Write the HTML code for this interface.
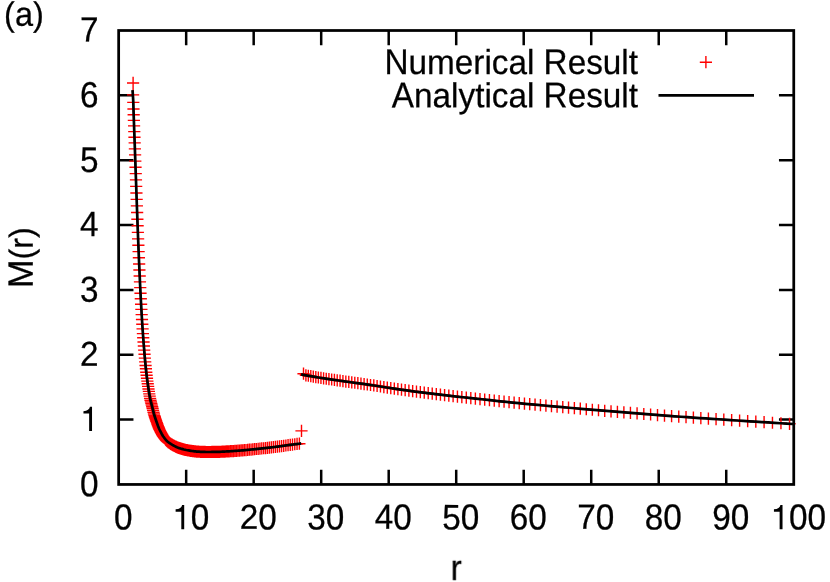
<!DOCTYPE html>
<html><head><meta charset="utf-8"><title>plot</title>
<style>
html,body{margin:0;padding:0;background:#fff;}
body{width:830px;height:582px;overflow:hidden;}
svg{display:block;}
text{font-family:"Liberation Sans",sans-serif;font-size:33.30px;fill:#000;stroke:#000;stroke-width:0.25px;white-space:pre;}
</style></head><body>
<svg width="830" height="582" viewBox="0 0 830 582">
<rect width="830" height="582" fill="#fff"/>
<path d="M186.17 484.45v-14.80M186.17 30.50v14.80M253.68 484.45v-14.80M253.68 30.50v14.80M321.19 484.45v-14.80M321.19 30.50v14.80M388.70 484.45v-14.80M388.70 30.50v14.80M456.21 484.45v-14.80M456.21 30.50v14.80M523.71 484.45v-14.80M523.71 30.50v14.80M591.22 484.45v-14.80M591.22 30.50v14.80M658.73 484.45v-14.80M658.73 30.50v14.80M726.24 484.45v-14.80M726.24 30.50v14.80M118.66 419.60h14.80M793.75 419.60h-14.80M118.66 354.75h14.80M793.75 354.75h-14.80M118.66 289.90h14.80M793.75 289.90h-14.80M118.66 225.05h14.80M793.75 225.05h-14.80M118.66 160.20h14.80M793.75 160.20h-14.80M118.66 95.35h14.80M793.75 95.35h-14.80" stroke="#000" stroke-width="2.50" fill="none"/>
<path d="M297.40 373.70h12.20M303.50 367.60v12.20M299.80 375.29h12.20M305.90 369.19v12.20M302.23 375.75h12.20M308.33 369.65v12.20M304.69 376.20h12.20M310.79 370.10v12.20M307.18 376.65h12.20M313.28 370.55v12.20M309.71 377.08h12.20M315.81 370.98v12.20M312.26 377.51h12.20M318.36 371.41v12.20M314.85 377.93h12.20M320.95 371.83v12.20M317.48 378.33h12.20M323.58 372.23v12.20M320.14 378.73h12.20M326.24 372.63v12.20M322.83 379.12h12.20M328.93 373.02v12.20M325.56 379.52h12.20M331.66 373.42v12.20M328.32 379.92h12.20M334.42 373.82v12.20M331.12 380.32h12.20M337.22 374.22v12.20M333.96 380.72h12.20M340.06 374.62v12.20M336.83 381.13h12.20M342.93 375.03v12.20M339.74 381.53h12.20M345.84 375.43v12.20M342.69 381.94h12.20M348.79 375.84v12.20M345.67 382.34h12.20M351.77 376.24v12.20M348.70 382.76h12.20M354.80 376.66v12.20M351.76 383.18h12.20M357.86 377.08v12.20M354.87 383.61h12.20M360.97 377.51v12.20M358.01 384.05h12.20M364.11 377.95v12.20M361.19 384.51h12.20M367.29 378.41v12.20M364.42 384.98h12.20M370.52 378.88v12.20M367.69 385.47h12.20M373.79 379.37v12.20M371.00 385.98h12.20M377.10 379.88v12.20M374.35 386.51h12.20M380.45 380.41v12.20M377.75 387.05h12.20M383.85 380.95v12.20M381.19 387.59h12.20M387.29 381.49v12.20M384.67 388.14h12.20M390.77 382.04v12.20M388.20 388.67h12.20M394.30 382.57v12.20M391.78 389.20h12.20M397.88 383.10v12.20M395.40 389.71h12.20M401.50 383.61v12.20M399.07 390.22h12.20M405.17 384.12v12.20M402.79 390.72h12.20M408.89 384.62v12.20M406.56 391.22h12.20M412.66 385.12v12.20M410.37 391.72h12.20M416.47 385.62v12.20M414.23 392.22h12.20M420.33 386.12v12.20M418.15 392.72h12.20M424.25 386.62v12.20M422.11 393.22h12.20M428.21 387.12v12.20M426.13 393.71h12.20M432.23 387.61v12.20M430.20 394.20h12.20M436.30 388.10v12.20M434.32 394.69h12.20M440.42 388.59v12.20M438.49 395.18h12.20M444.59 389.08v12.20M442.72 395.66h12.20M448.82 389.56v12.20M447.01 396.14h12.20M453.11 390.04v12.20M451.34 396.62h12.20M457.44 390.52v12.20M455.74 397.10h12.20M461.84 391.00v12.20M460.19 397.58h12.20M466.29 391.48v12.20M464.70 398.07h12.20M470.80 391.97v12.20M469.27 398.56h12.20M475.37 392.46v12.20M473.90 399.07h12.20M480.00 392.97v12.20M478.59 399.59h12.20M484.69 393.49v12.20M483.34 400.11h12.20M489.44 394.01v12.20M488.15 400.63h12.20M494.25 394.53v12.20M493.02 401.16h12.20M499.12 395.06v12.20M497.96 401.68h12.20M504.06 395.58v12.20M502.96 402.20h12.20M509.06 396.10v12.20M508.02 402.71h12.20M514.12 396.61v12.20M513.15 403.22h12.20M519.25 397.12v12.20M518.35 403.72h12.20M524.45 397.62v12.20M523.62 404.22h12.20M529.72 398.12v12.20M528.95 404.72h12.20M535.05 398.62v12.20M534.35 405.21h12.20M540.45 399.11v12.20M539.82 405.71h12.20M545.92 399.61v12.20M545.37 406.21h12.20M551.47 400.11v12.20M550.98 406.71h12.20M557.08 400.61v12.20M556.67 407.20h12.20M562.77 401.10v12.20M562.43 407.71h12.20M568.53 401.61v12.20M568.27 408.21h12.20M574.37 402.11v12.20M574.18 408.72h12.20M580.28 402.62v12.20M580.17 409.23h12.20M586.27 403.13v12.20M586.24 409.75h12.20M592.34 403.65v12.20M592.39 410.27h12.20M598.49 404.17v12.20M598.61 410.79h12.20M604.71 404.69v12.20M604.92 411.32h12.20M611.02 405.22v12.20M611.31 411.85h12.20M617.41 405.75v12.20M617.78 412.38h12.20M623.88 406.28v12.20M624.33 412.92h12.20M630.43 406.82v12.20M630.97 413.45h12.20M637.07 407.35v12.20M637.70 413.98h12.20M643.80 407.88v12.20M644.51 414.51h12.20M650.61 408.41v12.20M651.41 415.04h12.20M657.51 408.94v12.20M658.40 415.56h12.20M664.50 409.46v12.20M665.49 416.08h12.20M671.59 409.98v12.20M672.66 416.59h12.20M678.76 410.49v12.20M679.93 417.10h12.20M686.03 411.00v12.20M687.29 417.61h12.20M693.39 411.51v12.20M694.74 418.11h12.20M700.84 412.01v12.20M702.30 418.62h12.20M708.40 412.52v12.20M709.95 419.13h12.20M716.05 413.03v12.20M717.70 419.63h12.20M723.80 413.53v12.20M725.55 420.15h12.20M731.65 414.05v12.20M733.51 420.66h12.20M739.61 414.56v12.20M741.56 421.18h12.20M747.66 415.08v12.20M749.72 421.70h12.20M755.82 415.60v12.20M757.99 422.22h12.20M764.09 416.12v12.20M766.36 422.75h12.20M772.46 416.65v12.20M774.85 423.27h12.20M780.95 417.17v12.20M783.44 423.79h12.20M789.54 417.69v12.20M144.39 400.21h12.20M150.49 394.11v12.20M144.81 401.91h12.20M150.91 395.81v12.20M145.23 403.51h12.20M151.33 397.41v12.20M145.65 405.11h12.20M151.75 399.01v12.20M146.09 406.77h12.20M152.19 400.67v12.20M146.52 408.54h12.20M152.62 402.44v12.20M146.97 410.41h12.20M153.07 404.31v12.20M147.42 412.25h12.20M153.52 406.15v12.20M147.87 414.02h12.20M153.97 407.92v12.20M148.33 415.58h12.20M154.43 409.48v12.20M148.80 417.06h12.20M154.90 410.96v12.20M149.27 418.48h12.20M155.37 412.38v12.20M149.75 419.85h12.20M155.85 413.75v12.20M150.23 421.23h12.20M156.33 415.13v12.20M150.73 422.63h12.20M156.83 416.53v12.20M151.22 424.04h12.20M157.32 417.94v12.20M151.73 425.43h12.20M157.83 419.33v12.20M152.24 426.78h12.20M158.34 420.68v12.20M152.76 428.06h12.20M158.86 421.96v12.20M153.28 429.27h12.20M159.38 423.17v12.20M153.81 430.40h12.20M159.91 424.30v12.20M154.35 431.50h12.20M160.45 425.40v12.20M154.89 432.52h12.20M160.99 426.42v12.20M155.45 433.55h12.20M161.55 427.45v12.20M156.01 434.52h12.20M162.11 428.42v12.20M156.57 435.48h12.20M162.67 429.38v12.20M157.15 436.40h12.20M163.25 430.30v12.20M157.73 437.21h12.20M163.83 431.11v12.20M158.32 438.00h12.20M164.42 431.90v12.20M158.91 438.77h12.20M165.01 432.67v12.20M159.52 439.53h12.20M165.62 433.43v12.20M160.13 440.26h12.20M166.23 434.16v12.20M160.75 440.93h12.20M166.85 434.83v12.20M161.38 441.51h12.20M167.48 435.41v12.20M162.02 442.04h12.20M168.12 435.94v12.20M162.66 442.52h12.20M168.76 436.42v12.20M163.32 442.97h12.20M169.42 436.87v12.20M163.98 443.42h12.20M170.08 437.32v12.20M164.65 443.85h12.20M170.75 437.75v12.20M165.33 444.28h12.20M171.43 438.18v12.20M166.02 444.69h12.20M172.12 438.59v12.20M166.71 445.09h12.20M172.81 438.99v12.20M167.42 445.49h12.20M173.52 439.39v12.20M168.14 445.86h12.20M174.24 439.76v12.20M168.86 446.23h12.20M174.96 440.13v12.20M169.59 446.59h12.20M175.69 440.49v12.20M170.34 446.94h12.20M176.44 440.84v12.20M171.09 447.28h12.20M177.19 441.18v12.20M171.86 447.60h12.20M177.96 441.50v12.20M172.63 447.89h12.20M178.73 441.79v12.20M173.41 448.17h12.20M179.51 442.07v12.20M174.21 448.42h12.20M180.31 442.32v12.20M175.01 448.67h12.20M181.11 442.57v12.20M175.82 448.91h12.20M181.92 442.81v12.20M176.65 449.14h12.20M182.75 443.04v12.20M177.49 449.36h12.20M183.59 443.26v12.20M178.33 449.58h12.20M184.43 443.48v12.20M179.19 449.78h12.20M185.29 443.68v12.20M180.06 449.98h12.20M186.16 443.88v12.20M180.94 450.16h12.20M187.04 444.06v12.20M181.83 450.33h12.20M187.93 444.23v12.20M182.74 450.49h12.20M188.84 444.39v12.20M183.65 450.64h12.20M189.75 444.54v12.20M184.58 450.79h12.20M190.68 444.69v12.20M185.52 450.93h12.20M191.62 444.83v12.20M186.47 451.08h12.20M192.57 444.98v12.20M187.43 451.21h12.20M193.53 445.11v12.20M188.41 451.34h12.20M194.51 445.24v12.20M189.40 451.45h12.20M195.50 445.35v12.20M190.40 451.55h12.20M196.50 445.45v12.20M191.42 451.63h12.20M197.52 445.53v12.20M192.45 451.69h12.20M198.55 445.59v12.20M193.49 451.75h12.20M199.59 445.65v12.20M194.54 451.80h12.20M200.64 445.70v12.20M195.61 451.84h12.20M201.71 445.74v12.20M196.70 451.89h12.20M202.80 445.79v12.20M197.79 451.93h12.20M203.89 445.83v12.20M198.90 451.96h12.20M205.00 445.86v12.20M200.03 451.98h12.20M206.13 445.88v12.20M201.17 452.00h12.20M207.27 445.90v12.20M202.33 452.00h12.20M208.43 445.90v12.20M203.50 452.00h12.20M209.60 445.90v12.20M204.68 451.98h12.20M210.78 445.88v12.20M205.89 451.97h12.20M211.99 445.87v12.20M207.10 451.95h12.20M213.20 445.85v12.20M208.34 451.93h12.20M214.44 445.83v12.20M209.59 451.90h12.20M215.69 445.80v12.20M210.85 451.87h12.20M216.95 445.77v12.20M212.13 451.84h12.20M218.23 445.74v12.20M213.43 451.80h12.20M219.53 445.70v12.20M214.75 451.75h12.20M220.85 445.65v12.20M216.08 451.69h12.20M222.18 445.59v12.20M217.43 451.62h12.20M223.53 445.52v12.20M218.80 451.54h12.20M224.90 445.44v12.20M220.18 451.47h12.20M226.28 445.37v12.20M221.59 451.39h12.20M227.69 445.29v12.20M223.01 451.31h12.20M229.11 445.21v12.20M224.45 451.22h12.20M230.55 445.12v12.20M225.91 451.13h12.20M232.01 445.03v12.20M227.39 451.03h12.20M233.49 444.93v12.20M228.89 450.92h12.20M234.99 444.82v12.20M230.40 450.81h12.20M236.50 444.71v12.20M231.94 450.70h12.20M238.04 444.60v12.20M233.50 450.58h12.20M239.60 444.48v12.20M235.08 450.46h12.20M241.18 444.36v12.20M236.67 450.32h12.20M242.77 444.22v12.20M238.29 450.18h12.20M244.39 444.08v12.20M239.93 450.03h12.20M246.03 443.93v12.20M241.59 449.87h12.20M247.69 443.77v12.20M243.28 449.71h12.20M249.38 443.61v12.20M244.98 449.55h12.20M251.08 443.45v12.20M246.71 449.38h12.20M252.81 443.28v12.20M248.46 449.20h12.20M254.56 443.10v12.20M250.23 449.02h12.20M256.33 442.92v12.20M252.03 448.84h12.20M258.13 442.74v12.20M253.85 448.65h12.20M259.95 442.55v12.20M255.69 448.45h12.20M261.79 442.35v12.20M257.56 448.25h12.20M263.66 442.15v12.20M259.45 448.04h12.20M265.55 441.94v12.20M261.36 447.82h12.20M267.46 441.72v12.20M263.30 447.60h12.20M269.40 441.50v12.20M265.27 447.37h12.20M271.37 441.27v12.20M267.26 447.13h12.20M273.36 441.03v12.20M269.28 446.88h12.20M275.38 440.78v12.20M271.32 446.63h12.20M277.42 440.53v12.20M273.39 446.37h12.20M279.49 440.27v12.20M275.49 446.09h12.20M281.59 439.99v12.20M277.62 445.79h12.20M283.72 439.69v12.20M279.77 445.48h12.20M285.87 439.38v12.20M281.95 445.17h12.20M288.05 439.07v12.20M284.16 444.87h12.20M290.26 438.77v12.20M286.40 444.57h12.20M292.50 438.47v12.20M288.67 444.27h12.20M294.77 438.17v12.20M290.96 443.97h12.20M297.06 437.87v12.20M293.29 443.68h12.20M299.39 437.58v12.20M127.00 94.90h12.20M133.10 88.80v12.20M127.19 102.40h12.20M133.29 96.30v12.20M127.38 109.00h12.20M133.48 102.90v12.20M127.57 114.80h12.20M133.67 108.70v12.20M127.77 120.40h12.20M133.87 114.30v12.20M127.97 125.90h12.20M134.07 119.80v12.20M128.17 131.60h12.20M134.27 125.50v12.20M128.37 137.20h12.20M134.47 131.10v12.20M128.58 142.90h12.20M134.68 136.80v12.20M128.79 148.90h12.20M134.89 142.80v12.20M129.00 154.90h12.20M135.10 148.80v12.20M129.21 161.10h12.20M135.31 155.00v12.20M129.43 167.30h12.20M135.53 161.20v12.20M129.65 173.60h12.20M135.75 167.50v12.20M129.87 179.90h12.20M135.97 173.80v12.20M130.10 186.40h12.20M136.20 180.30v12.20M130.33 193.00h12.20M136.43 186.90v12.20M130.56 199.40h12.20M136.66 193.30v12.20M130.79 205.90h12.20M136.89 199.80v12.20M131.03 212.50h12.20M137.13 206.40v12.20M131.27 219.20h12.20M137.37 213.10v12.20M131.52 225.80h12.20M137.62 219.70v12.20M131.76 232.40h12.20M137.86 226.30v12.20M132.01 238.90h12.20M138.11 232.80v12.20M132.27 245.30h12.20M138.37 239.20v12.20M132.52 251.60h12.20M138.62 245.50v12.20M132.79 257.80h12.20M138.89 251.70v12.20M133.05 264.00h12.20M139.15 257.90v12.20M133.32 270.00h12.20M139.42 263.90v12.20M133.59 276.00h12.20M139.69 269.90v12.20M133.86 281.90h12.20M139.96 275.80v12.20M134.14 287.60h12.20M140.24 281.50v12.20M134.42 293.30h12.20M140.52 287.20v12.20M134.71 298.80h12.20M140.81 292.70v12.20M134.99 304.20h12.20M141.09 298.10v12.20M135.29 309.40h12.20M141.39 303.30v12.20M135.58 314.60h12.20M141.68 308.50v12.20M135.88 319.50h12.20M141.98 313.40v12.20M136.19 324.30h12.20M142.29 318.20v12.20M136.50 328.90h12.20M142.60 322.80v12.20M136.81 333.60h12.20M142.91 327.50v12.20M137.12 337.80h12.20M143.22 331.70v12.20M137.45 342.00h12.20M143.55 335.90v12.20M137.77 346.00h12.20M143.87 339.90v12.20M138.10 350.10h12.20M144.20 344.00v12.20M138.43 354.30h12.20M144.53 348.20v12.20M138.77 358.10h12.20M144.87 352.00v12.20M139.11 361.90h12.20M145.21 355.80v12.20M139.46 365.50h12.20M145.56 359.40v12.20M139.81 368.80h12.20M145.91 362.70v12.20M140.16 372.20h12.20M146.26 366.10v12.20M140.52 375.20h12.20M146.62 369.10v12.20M140.89 378.20h12.20M146.99 372.10v12.20M141.26 381.10h12.20M147.36 375.00v12.20M141.63 383.70h12.20M147.73 377.60v12.20M142.01 386.40h12.20M148.11 380.30v12.20M142.40 389.00h12.20M148.50 382.90v12.20M142.78 391.40h12.20M148.88 385.30v12.20M143.18 393.90h12.20M149.28 387.80v12.20M143.58 396.10h12.20M149.68 390.00v12.20M143.98 398.40h12.20M150.08 392.30v12.20M127.00 82.95h12.20M133.10 76.85v12.20M295.40 430.90h12.20M301.50 424.80v12.20M699.80 62.20h12.20M705.90 56.10v12.20" stroke="#f00" stroke-width="1.4" fill="none"/>
<rect x="118.66" y="30.50" width="675.09" height="453.95" fill="none" stroke="#000" stroke-width="2.75"/>
<path d="M132.50 90.20 L132.71 92.69 L132.89 95.18 L133.05 97.67 L133.19 100.16 L133.30 102.65 L133.38 105.14 L133.44 107.62 L133.51 110.11 L133.60 112.60 L133.68 115.09 L133.77 117.58 L133.86 120.07 L133.95 122.56 L134.04 125.05 L134.12 127.54 L134.21 130.03 L134.30 132.52 L134.39 135.01 L134.48 137.49 L134.57 139.98 L134.66 142.47 L134.75 144.96 L134.84 147.45 L134.92 149.94 L135.01 152.43 L135.10 154.92 L135.18 157.41 L135.27 159.90 L135.36 162.39 L135.44 164.88 L135.53 167.37 L135.62 169.85 L135.71 172.34 L135.79 174.83 L135.88 177.32 L135.97 179.81 L136.06 182.30 L136.14 184.79 L136.23 187.28 L136.31 189.77 L136.40 192.26 L136.49 194.75 L136.58 197.24 L136.67 199.73 L136.76 202.21 L136.85 204.70 L136.94 207.19 L137.03 209.68 L137.12 212.17 L137.21 214.66 L137.30 217.15 L137.39 219.64 L137.48 222.13 L137.57 224.62 L137.67 227.11 L137.76 229.60 L137.85 232.08 L137.95 234.57 L138.04 237.06 L138.14 239.55 L138.24 242.04 L138.34 244.53 L138.44 247.02 L138.54 249.51 L138.64 252.00 L138.75 254.49 L138.85 256.98 L138.96 259.47 L139.06 261.96 L139.17 264.44 L139.28 266.93 L139.39 269.42 L139.50 271.91 L139.61 274.40 L139.73 276.89 L139.84 279.38 L139.96 281.87 L140.08 284.36 L140.20 286.85 L140.32 289.34 L140.45 291.83 L140.57 294.32 L140.70 296.80 L140.83 299.29 L140.96 301.78 L141.10 304.27 L141.24 306.76 L141.38 309.25 L141.52 311.74 L141.66 314.23 L141.81 316.72 L141.97 319.21 L142.12 321.70 L142.28 324.19 L142.45 326.67 L142.61 329.16 L142.78 331.65 L142.95 334.14 L143.14 336.63 L143.32 339.12 L143.51 341.61 L143.71 344.10 L143.92 346.59 L144.12 349.08 L144.31 351.57 L144.51 354.06 L144.73 356.55 L144.95 359.03 L145.18 361.52 L145.41 364.01 L145.66 366.50 L145.93 368.99 L146.19 371.48 L146.47 373.97 L146.78 376.46 L147.08 378.95 L147.40 381.44 L147.76 383.93 L148.11 386.42 L148.48 388.91 L148.88 391.39 L149.28 393.88 L149.73 396.37 L150.18 398.86 L150.76 401.35 L151.42 403.84 L152.08 406.33 L152.69 408.82 L153.28 411.31 L153.91 413.80 L154.64 416.29 L155.47 418.78 L156.35 421.26 L157.22 423.75 L158.12 426.24 L159.13 428.73 L160.30 431.22 L161.63 433.71 L163.10 436.20 L164.26 437.80 L165.42 439.29 L166.58 440.68 L167.74 441.76 L168.90 442.62 L170.06 443.41 L171.22 444.15 L172.38 444.85 L173.54 445.50 L174.71 446.10 L175.87 446.67 L177.03 447.21 L178.19 447.70 L179.35 448.12 L180.51 448.49 L181.67 448.83 L182.83 449.16 L183.99 449.47 L185.15 449.75 L186.31 450.01 L187.47 450.24 L188.63 450.45 L189.79 450.65 L190.95 450.83 L192.11 451.01 L193.27 451.18 L194.43 451.33 L195.59 451.46 L196.75 451.57 L197.92 451.66 L199.08 451.72 L200.24 451.78 L201.40 451.83 L202.56 451.88 L203.72 451.92 L204.88 451.95 L206.04 451.98 L207.20 452.00 L208.36 452.00 L209.52 452.00 L210.68 451.99 L211.84 451.97 L213.00 451.95 L214.16 451.93 L215.32 451.91 L216.48 451.88 L217.64 451.85 L218.80 451.82 L219.96 451.78 L221.13 451.74 L222.29 451.68 L223.45 451.62 L224.61 451.56 L225.77 451.50 L226.93 451.43 L228.09 451.37 L229.25 451.30 L230.41 451.23 L231.57 451.16 L232.73 451.08 L233.89 451.00 L235.05 450.92 L236.21 450.84 L237.37 450.75 L238.53 450.66 L239.69 450.57 L240.85 450.48 L242.01 450.39 L243.17 450.29 L244.34 450.18 L245.50 450.08 L246.66 449.97 L247.82 449.86 L248.98 449.75 L250.14 449.64 L251.30 449.52 L252.46 449.41 L253.62 449.30 L254.78 449.18 L255.94 449.06 L257.10 448.94 L258.26 448.82 L259.42 448.70 L260.58 448.58 L261.74 448.46 L262.90 448.33 L264.06 448.20 L265.22 448.08 L266.38 447.95 L267.55 447.81 L268.71 447.68 L269.87 447.55 L271.03 447.41 L272.19 447.27 L273.35 447.13 L274.51 446.99 L275.67 446.85 L276.83 446.70 L277.99 446.56 L279.15 446.41 L280.31 446.26 L281.47 446.10 L282.63 445.94 L283.79 445.78 L284.95 445.61 L286.11 445.45 L287.27 445.28 L288.43 445.12 L289.59 444.95 L290.76 444.80 L291.92 444.64 L293.08 444.49 L294.24 444.34 L295.40 444.19 L296.56 444.04 L297.72 443.89 L298.88 443.74 L300.04 443.59 L301.20 443.45" stroke="#000" stroke-width="2.70" fill="none" stroke-linejoin="round"/>
<path d="M301.10 374.35 L307.33 375.56 L313.55 376.69 L319.78 377.74 L326.01 378.69 L332.23 379.60 L338.46 380.50 L344.69 381.37 L350.91 382.23 L357.14 383.08 L363.37 383.95 L369.59 384.84 L375.82 385.78 L382.05 386.76 L388.27 387.75 L394.50 388.70 L400.73 389.60 L406.95 390.46 L413.18 391.29 L419.41 392.10 L425.63 392.89 L431.86 393.67 L438.08 394.42 L444.31 395.15 L450.54 395.85 L456.76 396.54 L462.99 397.22 L469.22 397.90 L475.44 398.57 L481.67 399.25 L487.90 399.94 L494.12 400.62 L500.35 401.29 L506.58 401.95 L512.80 402.58 L519.03 403.19 L525.26 403.79 L531.48 404.38 L537.71 404.96 L543.94 405.53 L550.16 406.09 L556.39 406.64 L562.62 407.19 L568.84 407.73 L575.07 408.27 L581.30 408.80 L587.52 409.34 L593.75 409.87 L599.98 410.39 L606.20 410.92 L612.43 411.44 L618.66 411.96 L624.88 412.47 L631.11 412.97 L637.34 413.47 L643.56 413.97 L649.79 414.45 L656.02 414.93 L662.24 415.40 L668.47 415.85 L674.69 416.30 L680.92 416.75 L687.15 417.18 L693.37 417.61 L699.60 418.03 L705.83 418.45 L712.05 418.86 L718.28 419.27 L724.51 419.68 L730.73 420.09 L736.96 420.49 L743.19 420.89 L749.41 421.29 L755.64 421.69 L761.87 422.08 L768.09 422.47 L774.32 422.86 L780.55 423.24 L786.77 423.62 L793.00 424.00" stroke="#000" stroke-width="2.70" fill="none" stroke-linejoin="round"/>
<path d="M658.5 95.4H754" stroke="#000" stroke-width="2.70" fill="none"/>
<g opacity="0.999">
<text transform="translate(114.00 529.60) rotate(0.03) scale(1 1.090)" text-anchor="start">0</text>
<path transform="translate(172.25 529.20) scale(33.30 -34.13)" d="M.272 0H.359V.709H.296C.282 .64 .22 .588 .101 .583V.512H.272Z"/><text transform="translate(190.77 529.60) rotate(0.03) scale(1 1.090)" text-anchor="start">0</text>
<text transform="translate(239.76 528.80) rotate(0.03) scale(1 1.040)" text-anchor="start">2</text><text transform="translate(258.28 529.60) rotate(0.03) scale(1 1.090)" text-anchor="start">0</text>
<text transform="translate(307.27 529.60) rotate(0.03) scale(1 1.090)" text-anchor="start">3</text><text transform="translate(325.79 529.60) rotate(0.03) scale(1 1.090)" text-anchor="start">0</text>
<text transform="translate(374.78 528.70) rotate(0.03) scale(1 1.050)" text-anchor="start">4</text><text transform="translate(393.30 529.60) rotate(0.03) scale(1 1.090)" text-anchor="start">0</text>
<text transform="translate(442.29 529.60) rotate(0.03) scale(1 1.070)" text-anchor="start">5</text><text transform="translate(460.81 529.60) rotate(0.03) scale(1 1.090)" text-anchor="start">0</text>
<text transform="translate(509.79 529.60) rotate(0.03) scale(1 1.090)" text-anchor="start">6</text><text transform="translate(528.31 529.60) rotate(0.03) scale(1 1.090)" text-anchor="start">0</text>
<text transform="translate(577.30 528.70) rotate(0.03) scale(1 1.050)" text-anchor="start">7</text><text transform="translate(595.82 529.60) rotate(0.03) scale(1 1.090)" text-anchor="start">0</text>
<text transform="translate(644.81 529.60) rotate(0.03) scale(1 1.090)" text-anchor="start">8</text><text transform="translate(663.33 529.60) rotate(0.03) scale(1 1.090)" text-anchor="start">0</text>
<text transform="translate(712.32 529.60) rotate(0.03) scale(1 1.090)" text-anchor="start">9</text><text transform="translate(730.84 529.60) rotate(0.03) scale(1 1.090)" text-anchor="start">0</text>
<path transform="translate(770.57 529.20) scale(33.30 -34.13)" d="M.272 0H.359V.709H.296C.282 .64 .22 .588 .101 .583V.512H.272Z"/><text transform="translate(789.09 529.60) rotate(0.03) scale(1 1.090)" text-anchor="start">0</text><text transform="translate(807.61 529.60) rotate(0.03) scale(1 1.090)" text-anchor="start">0</text>
<text transform="translate(80.08 496.30) rotate(0.03) scale(1 1.090)" text-anchor="start">0</text>
<path transform="translate(80.08 431.05) scale(33.30 -34.13)" d="M.272 0H.359V.709H.296C.282 .64 .22 .588 .101 .583V.512H.272Z"/>
<text transform="translate(80.08 365.80) rotate(0.03) scale(1 1.040)" text-anchor="start">2</text>
<text transform="translate(80.08 301.75) rotate(0.03) scale(1 1.090)" text-anchor="start">3</text>
<text transform="translate(80.08 236.00) rotate(0.03) scale(1 1.050)" text-anchor="start">4</text>
<text transform="translate(80.08 172.05) rotate(0.03) scale(1 1.070)" text-anchor="start">5</text>
<text transform="translate(80.08 107.20) rotate(0.03) scale(1 1.090)" text-anchor="start">6</text>
<text transform="translate(80.08 41.45) rotate(0.03) scale(1 1.050)" text-anchor="start">7</text>
<text transform="translate(456.20 580.15) rotate(0.03) scale(1 1.040)" text-anchor="middle">r</text>
<g transform="translate(32.65 257.6) rotate(-89.97)"><text transform="translate(-30.39 0) scale(1.028 1.060)">M</text><text transform="translate(-1.88 0) scale(0.97 1.005)">(r)</text></g>
<text transform="translate(4.10 25.65) rotate(0.03) scale(1 1.040)" text-anchor="start" style="font-size:32.50px">(a)</text>
<text transform="translate(567.66 74.05) rotate(0.03) scale(1 1.040)" text-anchor="start">esult</text><text transform="translate(543.61 74.05) rotate(0.03) scale(1 1.075)" text-anchor="start">R</text><text transform="translate(408.53 74.05) rotate(0.03) scale(1 1.040)" text-anchor="start">umerical&#160;</text><text transform="translate(384.48 74.05) rotate(0.03) scale(1 1.075)" text-anchor="start">N</text>
<text transform="translate(567.66 107.20) rotate(0.03) scale(1 1.040)" text-anchor="start">esult</text><text transform="translate(543.61 107.20) rotate(0.03) scale(1 1.075)" text-anchor="start">R</text><text transform="translate(414.05 107.20) rotate(0.03) scale(1 1.040)" text-anchor="start">nalytical&#160;</text><text transform="translate(391.84 107.20) rotate(0.03) scale(1 1.075)" text-anchor="start">A</text>
</g>
</svg>
</body></html>
